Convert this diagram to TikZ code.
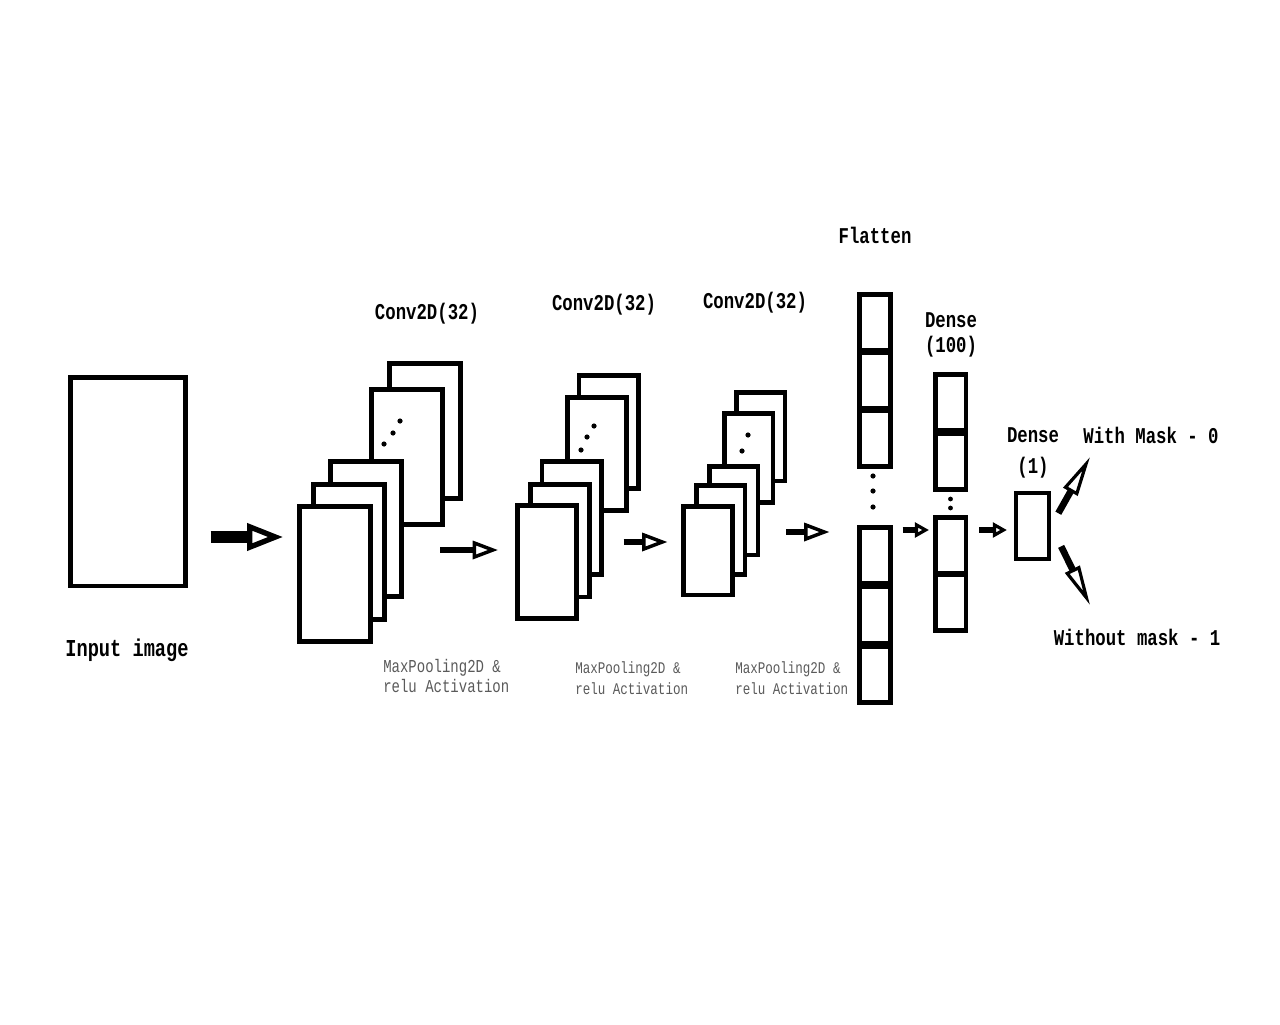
\documentclass[tikz,border=0pt]{standalone}
\usepackage{fontspec}
\usepackage{graphicx}
\setmonofont{Liberation Mono}
\usetikzlibrary{arrows.meta}

\definecolor{notegray}{RGB}{90,90,90}
\newcommand{\tallt}[1]{\scalebox{1}[1.3]{#1}}

\tikzset{
  fmap/.style={draw, line width=3.4pt, fill=white, inner sep=0pt},
  layer1/.style={fmap, minimum width=53.6pt, minimum height=101.6pt},
  layer2/.style={fmap, minimum width=44.6pt, minimum height=84.4pt},
  layer3/.style={fmap, minimum width=36.4pt, minimum height=66.4pt},
  cell/.style={fmap, minimum width=22.9pt, minimum height=42pt},
  title/.style={font=\ttfamily\bfseries\fontsize{13}{19}\selectfont, inner sep=0pt, align=center},
  note/.style={font=\ttfamily\fontsize{10.5}{15}\selectfont, text=notegray, inner sep=0pt, align=left},
  smallnote/.style={note, font=\ttfamily\fontsize{9.4}{16}\selectfont},
  bigflow/.style={line width=8.5pt, -{Triangle[open,line width=4pt,length=27pt,width=20pt]}},
  flow/.style={line width=5pt, -{Triangle[open,line width=2.6pt,length=19pt,width=13.5pt]}},
  shortflow/.style={line width=5pt, -{Triangle[open,line width=2.4pt,length=10.5pt,width=11pt]}},
  outflow/.style={line width=5pt, -{Triangle[open,line width=2.4pt,length=30pt,width=12pt]}},
}

\begin{document}
\begin{tikzpicture}[x=0.75pt,y=0.75pt,yscale=-1,xscale=1]
\useasboundingbox (0,0) rectangle (1280,1024);

% input image
\node[fmap, minimum width=86.6pt, minimum height=156.4pt] (img) at (128,481.5) {};
\node[title, font=\ttfamily\bfseries\fontsize{14}{17}\selectfont] (imglbl) at (127,650) {\tallt{Input image}};

% first conv block
\foreach \n/\x/\y in {e/425/431,d/407/457,c/366/529,b/349/552,a/335/574}
  \node[layer1] (c1\n) at (\x,\y) {};
\foreach \x/\y in {384/444,393/433,400/421}
  \fill (\x,\y) circle[radius=2.6];
\node[title] (c1lbl) at (427,314) {\tallt{Conv2D(32)}};
\node[note, anchor=north west] (c1note) at (383,659) {\tallt{MaxPooling2D \&}\\\tallt{relu Activation}};

% second conv block
\foreach \n/\x/\y in {e/608.5/432,d/597/454,c/571.5/518,b/560/540.5,a/547/562}
  \node[layer2] (c2\n) at (\x,\y) {};
\foreach \x/\y in {581/450,587/437,594/426}
  \fill (\x,\y) circle[radius=2.6];
\node[title] (c2lbl) at (604,305) {\tallt{Conv2D(32)}};
\node[smallnote, anchor=north west] (c2note) at (575,661) {\tallt{MaxPooling2D \&}\\\tallt{relu Activation}};

% third conv block
\foreach \n/\x/\y in {e/760.5/436.5,d/748.5/458,c/733.5/510.5,b/720.5/530,a/708/550.5}
  \node[layer3] (c3\n) at (\x,\y) {};
\foreach \x/\y in {742/451,748/435}
  \fill (\x,\y) circle[radius=2.6];
\node[title] (c3lbl) at (755,303) {\tallt{Conv2D(32)}};
\node[smallnote, anchor=north west] (c3note) at (735,661) {\tallt{MaxPooling2D \&}\\\tallt{relu Activation}};

% flatten
\foreach \i/\y in {1/322.25,2/380.25,3/438.25}
  \node[cell] (ft\i) at (875,\y) {};
\foreach \i/\y in {1/555.25,2/615,3/674.75}
  \node[cell] (fb\i) at (875,\y) {};
\foreach \y in {476,491,507}
  \fill (873,\y) circle[radius=2.6];
\node[title] (flbl) at (875,235) {\tallt{Flatten}};

% dense 100
\foreach \i/\y in {1/402.25,2/461.75}
  \node[cell] (dt\i) at (950.5,\y) {};
\foreach \i/\y in {1/545.25,2/602.75}
  \node[cell] (db\i) at (950.5,\y) {};
\foreach \y in {499,508}
  \fill (950.5,\y) circle[radius=2.4];
\node[title] (dlbl) at (951,335) {\tallt{Dense}\\\tallt{(100)}};

% dense 1
\node[fmap, line width=2.8pt, minimum width=25.1pt, minimum height=49.9pt] (out) at (1032.5,526) {};
\node[title] (olbl) at (1033,453) {\tallt{Dense}\\[4pt]\tallt{(1)}};

% arrows
\draw[bigflow, shorten <=17pt, shorten >=10.5pt] (img.east |- 0,537) -- (c1a.west |- 0,537);
\draw[flow, shorten <=27pt, shorten >=12.75pt] (c1c.east |- 0,550) -- (c2a.west |- 0,550);
\draw[flow, shorten <=15pt, shorten >=10.5pt] (c2c.east |- 0,542) -- (c3a.west |- 0,542);
\draw[flow, shorten <=19.5pt, shorten >=21pt] (c3c.east |- 0,532) -- (fb1.west |- 0,532);
\draw[shortflow, shorten <=7.5pt, shorten >=3pt] (fb1.east |- 0,530) -- (db1.west |- 0,530);
\draw[shortflow, shorten <=8.25pt, shorten >=5.25pt] (db1.east |- 0,530) -- (out.west |- 0,530);

% outputs
\coordinate (yes) at (1090,457);
\coordinate (no) at (1090,605);
\draw[outflow, shorten <=11pt] (out.east) -- (yes);
\draw[outflow, shorten <=17pt] (out.east) -- (no);
\node[title] (yeslbl) at (1151,435) {\tallt{With Mask - 0}};
\node[title] (nolbl) at (1137,637) {\tallt{Without mask - 1}};

\end{tikzpicture}
\end{document}
